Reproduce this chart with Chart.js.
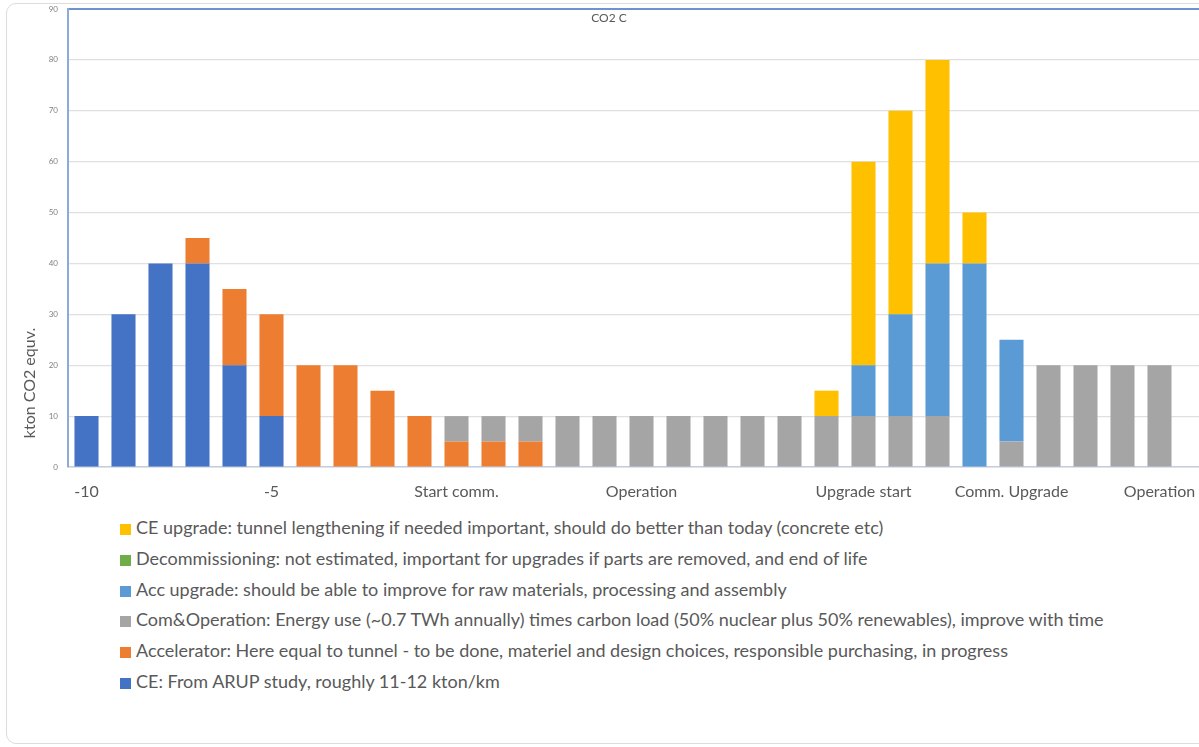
<!DOCTYPE html>
<html>
<head>
<meta charset="utf-8">
<script src="https://cdn.jsdelivr.net/npm/chart.js@4.4.1/dist/chart.umd.min.js"></script>
<style>
  html, body { margin: 0; padding: 0; background: #fff; overflow: hidden; }
  #wrap { position: relative; width: 1199px; height: 747px; overflow: hidden; }
  #card { position: absolute; left: 6px; top: 3px; width: 1300px; height: 741px;
          border: 1px solid #dcdcdc; border-radius: 10px; box-sizing: border-box; }
  #box { position: absolute; left: 0; top: 0; width: 1240px; height: 510px; }
  #legend { position: absolute; left: 120px; top: 512px; font-family: Lato, sans-serif;
            font-size: 18px; color: #595959; }
  #legend div { height: 30.8px; line-height: 30.8px; white-space: nowrap; }
  #legend span { display: inline-block; width: 11px; height: 11px; margin-right: 5px; vertical-align: -1px; }
</style>
</head>
<body>
<div id="wrap">
  <div id="card"></div>
  <div id="box"><canvas id="myChart" width="1240" height="510"></canvas></div>
  <div id="legend"></div>
</div>
<script>
const tickLabels = ['-10','','','','','-5','','','','','Start comm.','','','','','Operation','','','','','',
                    'Upgrade start','','','','Comm. Upgrade','','','','Operation','']

const ce          = [10,30,40,40,20,10,null,null,null,null,null,null,null,null,null,null,null,null,null,null,null,null,null,null,null,null,null,null,null,null]
const accelerator = [null,null,null,5,15,20,20,20,15,10,5,5,5,null,null,null,null,null,null,null,null,null,null,null,null,null,null,null,null,null]
const operation   = [null,null,null,null,null,null,null,null,null,null,5,5,5,10,10,10,10,10,10,10,10,10,10,10,null,5,20,20,20,20]
const accUpgrade  = [null,null,null,null,null,null,null,null,null,null,null,null,null,null,null,null,null,null,null,null,null,10,20,30,40,20,null,null,null,null]
const decommission = [null,null,null,null,null,null,null,null,null,null,null,null,null,null,null,null,null,null,null,null,null,null,null,null,null,null,null,null,null,null]
const ceUpgrade   = [null,null,null,null,null,null,null,null,null,null,null,null,null,null,null,null,null,null,null,null,5,40,40,40,10,null,null,null,null,null]

const seriesNames = [
  'CE: From ARUP study, roughly 11-12 kton/km',
  'Accelerator: Here equal to tunnel - to be done, materiel and design choices, responsible purchasing, in progress',
  'Com&Operation: Energy use (~0.7 TWh annually) times carbon load (50% nuclear plus 50% renewables), improve with time',
  'Acc upgrade: should be able to improve for raw materials, processing and assembly',
  'Decommissioning: not estimated, important for upgrades if parts are removed, and end of life',
  'CE upgrade: tunnel lengthening if needed important, should do better than today (concrete etc)'
]
const seriesColors = ['#4472C4','#ED7D31','#A5A5A5','#5B9BD5','#70AD47','#FFC000']
const seriesData = [ce, accelerator, operation, accUpgrade, decommission, ceUpgrade]

const txt = '#595959'

// axis title and chart title drawn by hand (they sit inside / beside the plot)
const extraText = {
  id: 'extraText',
  afterDraw(chart) {
    const c = chart.ctx
    c.save()
    c.fillStyle = txt
    c.textAlign = 'center'
    c.textBaseline = 'middle'
    c.font = '12px Lato, sans-serif'
    c.fillText('CO2 C', 609, 18)
    c.translate(30, 383)
    c.rotate(-Math.PI / 2)
    c.font = '16px Lato, sans-serif'
    c.fillText('kton CO2 equv.', 0, 0)
    c.restore()
  }
}

const ctx = document.getElementById('myChart')
const myChart = new Chart(ctx, {
  type: 'bar',
  data: {
    labels: tickLabels,
    datasets: seriesData.map((d, i) => ({
      label: seriesNames[i],
      data: d,
      backgroundColor: seriesColors[i],
      borderWidth: 0,
      barPercentage: 0.65,
      categoryPercentage: 1
    }))
  },
  options: {
    responsive: false,
    animation: false,
    layout: { padding: { top: 9, left: 0, right: 25, bottom: 0 } },
    plugins: { legend: { display: false }, tooltip: { enabled: false }, title: { display: false } },
    scales: {
      x: {
        stacked: true,
        grid: { display: false, drawTicks: false },
        border: { color: '#c3cde0', width: 1.5 },
        ticks: { autoSkip: false, maxRotation: 0, padding: 15, color: txt, font: { family: 'Lato', size: 16 } },
        afterFit: s => { s.height = 43; s.paddingLeft = 0; s.paddingRight = 0 }
      },
      y: {
        stacked: true,
        min: 0,
        max: 90,
        grid: {
          drawTicks: false,
          color: c => c.tick && c.tick.value === 90 ? '#6f93cf' : '#e0e0e0',
          lineWidth: c => c.tick && c.tick.value === 90 ? 2 : 1.2
        },
        border: { color: '#8eaadb', width: 2 },
        ticks: { stepSize: 10, padding: 10, color: '#7f7f7f', font: { family: 'Lato', size: 8 } },
        afterFit: s => { s.width = 68; s.paddingTop = 0; s.paddingBottom = 0 }
      }
    }
  },
  plugins: [extraText]
})

// legend, top entry is the last series
const lg = document.getElementById('legend')
for (let i = seriesNames.length - 1; i >= 0; i--) {
  const row = document.createElement('div')
  row.innerHTML = '<span style="background:' + seriesColors[i] + '"></span>' + seriesNames[i].replace(/&/g, '&amp;')
  lg.appendChild(row)
}
</script>
</body>
</html>
